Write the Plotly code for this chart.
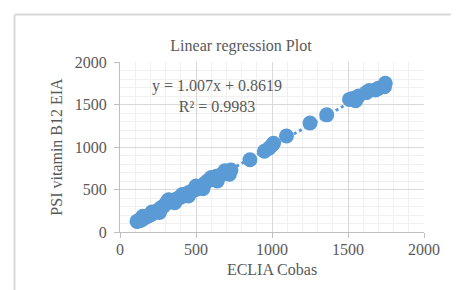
import plotly.graph_objects as go

# ---- data ----
eclia_cobas = [112, 118, 125, 130, 138, 145, 152, 160, 170, 185, 200, 215, 230, 245, 258,
               270, 285, 300, 312, 325, 340, 355, 370, 385, 400, 420, 440, 455, 470, 490,
               505, 520, 540, 560, 575, 590, 605, 620, 635, 650, 665, 680, 700, 715, 730,
               150, 210, 260, 320, 360, 410, 450, 500, 545, 600, 640, 690, 720,
               855, 950, 980, 1000, 1010, 1095, 1250, 1360,
               1510, 1530, 1550, 1570, 1620, 1640, 1680, 1700, 1740, 1745]
psi_b12_eia = [125, 130, 135, 140, 138, 150, 160, 170, 175, 190, 200, 220, 232, 250, 262,
               285, 300, 330, 360, 375, 370, 372, 385, 400, 410, 430, 450, 465, 478, 495,
               505, 520, 545, 575, 600, 615, 625, 640, 655, 660, 670, 690, 700, 715, 730,
               185, 235, 230, 380, 345, 440, 425, 540, 510, 640, 600, 720, 680,
               850, 950, 985, 1020, 1045, 1130, 1282, 1378,
               1560, 1570, 1545, 1600, 1640, 1665, 1670, 1690, 1710, 1750]

slope = 1.007
intercept = 0.8619
r_squared = 0.9983

x_ticks = [0, 500, 1000, 1500, 2000]
y_ticks = [0, 500, 1000, 1500, 2000]

title_text = "Linear regression Plot"
x_title = "ECLIA Cobas"
y_title = "PSI vitamin B12 EIA"

blue = "#5B9BD5"
txt = "#595959"
font_family = "Liberation Serif, Times New Roman, serif"

x_min, x_max = min(eclia_cobas), max(eclia_cobas)
trend_x = [x_min, x_max]
trend_y = [slope * v + intercept for v in trend_x]

fig = go.Figure()
fig.add_trace(go.Scatter(x=trend_x, y=trend_y, mode="lines",
                         line=dict(color=blue, width=3, dash="dot"),
                         hoverinfo="skip", showlegend=False))
fig.add_trace(go.Scatter(x=eclia_cobas, y=psi_b12_eia, mode="markers",
                         marker=dict(color=blue, size=15, line=dict(width=0)),
                         showlegend=False))

axis_common = dict(
    range=[0, 2000], dtick=500, tick0=0,
    showgrid=True, gridcolor="#d9d9d9", gridwidth=1,
    zeroline=False, showline=True, linecolor="#bfbfbf", linewidth=1,
    ticks="outside", ticklen=5, tickcolor="#bfbfbf", tickwidth=1,
    tickfont=dict(family=font_family, size=16, color=txt),
    minor=dict(dtick=100, showgrid=True, gridcolor="#f0f0f0", gridwidth=1, ticks=""),
)

fig.update_xaxes(**axis_common, tickvals=x_ticks, ticklabelstandoff=-2,
                 title=dict(text=x_title, font=dict(family=font_family, size=16, color=txt), standoff=6))
fig.update_yaxes(**axis_common, tickvals=y_ticks, ticklabelstandoff=4,
                 title=dict(text=y_title, font=dict(family=font_family, size=16, color=txt), standoff=8))

fig.add_annotation(x=641, y=1600, xref="x", yref="y",
                   text=f"y = {slope}x + {intercept}<br>R² = {r_squared}",
                   showarrow=False, align="center",
                   font=dict(family=font_family, size=16, color=txt))

fig.update_layout(
    width=459, height=290,
    margin=dict(l=112, r=43, t=54, b=66),
    paper_bgcolor="white", plot_bgcolor="white",
    title=dict(text=title_text, x=233 / 459, xref="container", xanchor="center",
               y=1 - 37 / 290, yref="container", yanchor="middle",
               font=dict(family=font_family, size=16, color=txt)),
    shapes=[
        dict(type="line", xref="paper", yref="paper", x0=-105 / 304, x1=1 + 43 / 304,
             y0=1 + 47.5 / 170, y1=1 + 47.5 / 170, line=dict(color="#d9d9d9", width=2)),
        dict(type="line", xref="paper", yref="paper", x0=-105.5 / 304, x1=-105.5 / 304,
             y0=-66 / 170, y1=1 + 47.5 / 170, line=dict(color="#d9d9d9", width=2)),
    ],
)

fig.write_html("out.html")
